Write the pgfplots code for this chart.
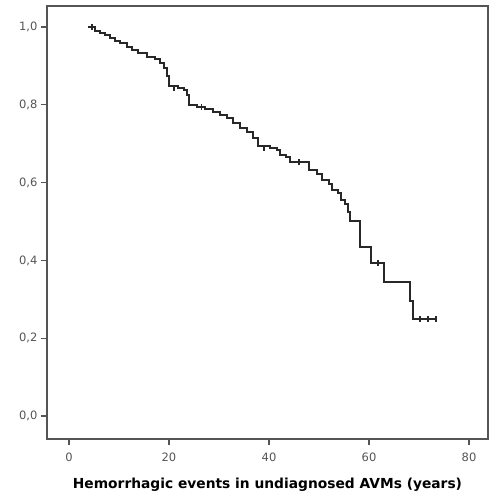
\documentclass[border=0pt]{standalone}
\usepackage{fontspec}
\setmainfont{Liberation Sans}
\newfontfamily\dejavu{DejaVu Sans}
\usepackage{pgfplots}
\pgfplotsset{compat=1.18}
\usetikzlibrary{calc}
\definecolor{kmline}{RGB}{40,40,40}
\definecolor{frameg}{RGB}{85,85,85}
\definecolor{tickg}{RGB}{85,85,85}
\begin{document}
\begin{tikzpicture}
\begin{axis}[
  name=ax,
  scale only axis,
  width=441pt, height=433pt,
  xmin=-4.4, xmax=83.8,
  ymin=-0.059, ymax=1.054,
  xtick={0,20,40,60,80},
  ytick={0,0.2,0.4,0.6,0.8,1.0},
  tick align=outside,
  xtick pos=left, ytick pos=left,
  major tick length=6pt,
  axis line style={frameg,line width=1.3pt},
  every tick/.style={frameg,line width=1.2pt},
  tick label style={font=\dejavu\fontsize{11.5}{13}\selectfont,text=tickg},
  /pgf/number format/assume math mode=true,
  yticklabel style={/pgf/number format/.cd,fixed,fixed zerofill,precision=1,use comma},
  xticklabel style={yshift=-4pt},
  xlabel={\bfseries Hemorrhagic events in undiagnosed AVMs (years)},
  xlabel style={font=\dejavu\fontsize{13.8}{15}\selectfont,yshift=-10pt},
  clip=false,
]
\addplot[const plot, kmline, line width=1.8pt] coordinates {
  (3.8,1.000) (5.2,0.990) (6.2,0.985) (7.2,0.979) (8.2,0.972) (9.2,0.964)
  (10.2,0.959) (11.6,0.949) (12.6,0.941) (13.8,0.933) (15.6,0.923)
  (17.2,0.918) (18.2,0.907) (19.0,0.895) (19.6,0.874) (20.0,0.848)
  (21.8,0.843) (23.0,0.838) (23.6,0.825) (24.0,0.800) (25.6,0.794)
  (27.2,0.789) (28.8,0.781) (30.2,0.774) (31.6,0.766) (32.8,0.753)
  (34.2,0.740) (35.6,0.730) (36.8,0.715) (37.8,0.694) (40.2,0.689)
  (41.6,0.684) (42.2,0.671) (43.4,0.666) (44.2,0.653) (48.0,0.632)
  (49.6,0.622) (50.6,0.607) (52.0,0.596) (52.6,0.581) (53.8,0.573)
  (54.4,0.555) (55.2,0.545) (55.8,0.524) (56.2,0.501) (58.2,0.434)
  (60.4,0.393) (63.0,0.344) (68.2,0.296) (68.8,0.249) (73.6,0.249)};
% censored observations
\addplot[only marks, mark=|, mark size=2.8pt, kmline,
  mark options={line width=1.2pt}] coordinates {
  (4.6,1.000) (21.0,0.843) (26.5,0.794) (39.0,0.689) (46.0,0.653)
  (61.8,0.393) (70.2,0.249) (71.8,0.249) (73.4,0.249)};
\end{axis}
\pgfresetboundingbox
\path[use as bounding box] ($(ax.south west)+(-47pt,-56pt)$) rectangle ($(ax.north east)+(2pt,6pt)$);
\end{tikzpicture}
\end{document}
